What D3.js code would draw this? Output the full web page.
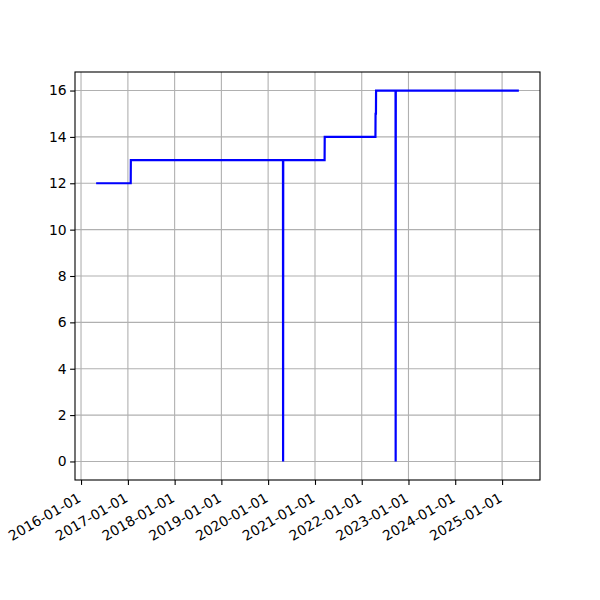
<!DOCTYPE html>
<html><head><meta charset="utf-8">
<script src="https://cdn.jsdelivr.net/npm/d3@7"></script>
<style>body{margin:0;background:#fff}svg{display:block}</style>
</head><body>
<script>
const dates = ["2016-04-28","2017-01-23","2017-01-24","2020-04-26","2020-04-27","2020-04-28","2021-03-17","2021-03-18","2022-04-18","2022-04-19","2022-04-22","2022-04-23","2022-09-22","2022-09-23","2022-09-24","2025-05-12"];
const values = [12,12,13,13,0,13,13,14,14,15,15,16,16,0,16,16];
const xTickLabels = ["2016-01-01","2017-01-01","2018-01-01","2019-01-01","2020-01-01","2021-01-01","2022-01-01","2023-01-01","2024-01-01","2025-01-01"];
const yTickValues = [0,2,4,6,8,10,12,14,16];

const W = 600, H = 600;
const m = {l:75, r:540, t:72, b:480};
const parse = d3.utcParse("%Y-%m-%d");
const data = dates.map((d,i)=>({x:parse(d), y:values[i]}));

const svg = d3.select("body").append("svg").attr("width",W).attr("height",H);
svg.append("rect").attr("width",W).attr("height",H).attr("fill","#fff");

const ext = d3.extent(data, d=>d.x);
const span = ext[1]-ext[0];
const x = d3.scaleUtc().domain([new Date(+ext[0]-0.05*span), new Date(+ext[1]+0.05*span)]).range([m.l, m.r]);
const yMax = d3.max(values), yMin = d3.min(values);
const ypad = (yMax-yMin)*0.05;
const y = d3.scaleLinear().domain([yMin-ypad, yMax+ypad]).range([m.b, m.t]);

const font = "DejaVu Sans, sans-serif";
const xTicks = xTickLabels.map(parse);

// grid
const g = svg.append("g");
g.selectAll("line.vx").data(xTicks).join("line")
  .attr("x1",d=>x(d)).attr("x2",d=>x(d)).attr("y1",m.t).attr("y2",m.b)
  .attr("stroke","#b0b0b0").attr("stroke-width",1.1);
g.selectAll("line.hy").data(yTickValues).join("line")
  .attr("y1",d=>y(d)).attr("y2",d=>y(d)).attr("x1",m.l).attr("x2",m.r)
  .attr("stroke","#b0b0b0").attr("stroke-width",1.1);

// line
svg.append("path").datum(data)
  .attr("d", d3.line().x(d=>x(d.x)).y(d=>y(d.y)))
  .attr("fill","none").attr("stroke","#0000ff").attr("stroke-width",2.2)
  .attr("stroke-linejoin","miter");

// axes
const xAxis = d3.axisBottom(x).tickValues(xTicks).tickSize(4.9).tickPadding(3.5).tickFormat(d3.utcFormat("%Y-%m-%d"));
const gx = svg.append("g").attr("transform",`translate(0,${m.b})`).call(xAxis);
gx.select(".domain").remove();
gx.selectAll(".tick line").attr("stroke","#000").attr("stroke-width",1.1);
gx.selectAll(".tick text").attr("font-family",font).attr("font-size",13.9).attr("fill","#000")
  .attr("text-anchor","end").attr("dy",null).attr("y",null)
  .attr("dominant-baseline","text-before-edge")
  .attr("transform","translate(-6,9.5) rotate(-30)");

const yAxis = d3.axisLeft(y).tickValues(yTickValues).tickSize(4.9).tickPadding(3.5);
const gy = svg.append("g").attr("transform",`translate(${m.l},0)`).call(yAxis);
gy.select(".domain").remove();
gy.selectAll(".tick line").attr("stroke","#000").attr("stroke-width",1.1);
gy.selectAll(".tick text").attr("font-family",font).attr("font-size",13.9).attr("fill","#000");

svg.append("rect").attr("x",m.l).attr("y",m.t).attr("width",m.r-m.l).attr("height",m.b-m.t)
  .attr("fill","none").attr("stroke","#000").attr("stroke-width",1.1);
</script>
</body></html>
